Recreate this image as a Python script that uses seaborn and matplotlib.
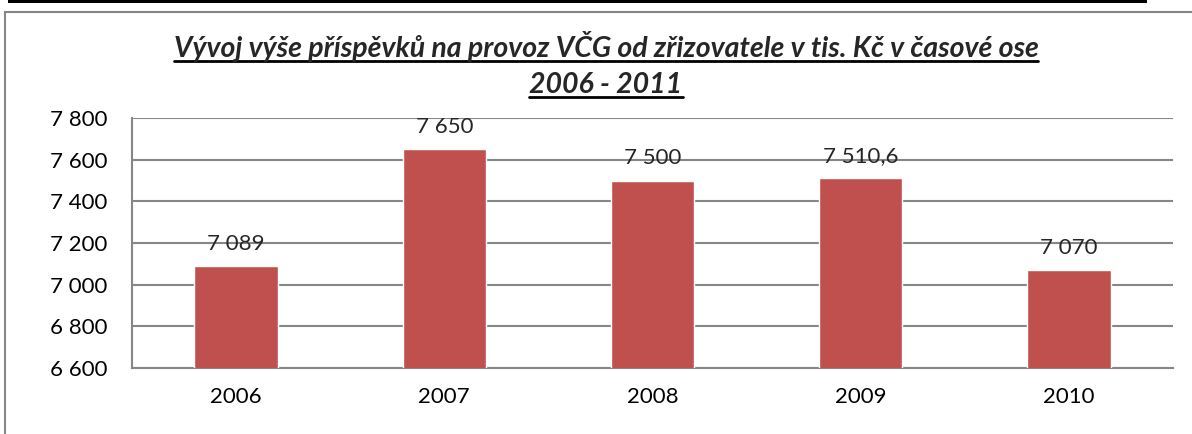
import matplotlib
matplotlib.use('Agg')
import matplotlib.pyplot as plt
import seaborn as sns
import pandas as pd
from matplotlib.patches import Rectangle

# data
years = ['2006', '2007', '2008', '2009', '2010']
prispevky = [7089, 7650, 7500, 7510.6, 7070]
labels = ['7 089', '7 650', '7 500', '7 510,6', '7 070']
yticks = [6600, 6800, 7000, 7200, 7400, 7600, 7800]

TITLE_LINES = ['Vývoj výše příspěvků na provoz VČG od zřizovatele v tis. Kč v časové ose',
               '2006 - 2011']
BAR_COLOR = '#C0504D'
GRID_COLOR = '#868686'

sns.set_style('white')
plt.rcParams['font.family'] = ['Lato', 'DejaVu Sans']

df = pd.DataFrame({'rok': years, 'hodnota': prispevky})

W, H = 1192, 434
fig = plt.figure(figsize=(W / 100, H / 100), dpi=100)
ax = fig.add_axes([132 / W, 1 - 368 / H, (1173 - 132) / W, (368 - 118) / H])

sns.barplot(data=df, x='rok', y='hodnota', color=BAR_COLOR, width=0.4,
            saturation=1, ax=ax, zorder=3)

ax.set_ylim(6600, 7800)
ax.set_yticks(yticks)
ax.set_yticklabels([f'{t:,}'.replace(',', ' ') for t in yticks])
ax.set_xlabel('')
ax.set_ylabel('')
ax.grid(axis='y', color=GRID_COLOR, lw=1.5, zorder=0)
ax.tick_params(axis='both', length=0, labelsize=16, colors='black')
ax.tick_params(axis='y', pad=18)
ax.tick_params(axis='x', pad=14)
for s in ['top', 'right']:
    ax.spines[s].set_visible(False)
for s in ['left', 'bottom']:
    ax.spines[s].set_color(GRID_COLOR)
    ax.spines[s].set_linewidth(1.5)

for i, (v, lab) in enumerate(zip(prispevky, labels)):
    ax.annotate(lab, (i, v), xytext=(0, 9), textcoords='offset points',
                ha='center', va='bottom', fontsize=16)

# title, two lines, underlined
renderer = fig.canvas.get_renderer()
for line, base_y in zip(TITLE_LINES, [57, 93]):
    t = fig.text(606 / W, 1 - base_y / H, line, ha='center', va='baseline',
                 fontsize=20.5, fontweight='bold', fontstyle='italic')
    bb = t.get_window_extent(renderer)
    uy = 1 - (base_y + 4) / H
    fig.add_artist(plt.Line2D([bb.x0 / W, bb.x1 / W], [uy, uy], color='black', lw=2))

# chart frame and black line at top
fig.add_artist(Rectangle((5 / W, -0.1), 1.2, 1 - 12 / H + 0.1, transform=fig.transFigure,
                         fill=False, edgecolor=GRID_COLOR, lw=1.5))
fig.add_artist(Rectangle((8 / W, 1 - 3 / H), (1147 - 8) / W, 4 / H, transform=fig.transFigure,
                         color='black', lw=0))

fig.savefig('out.png', dpi=100)
